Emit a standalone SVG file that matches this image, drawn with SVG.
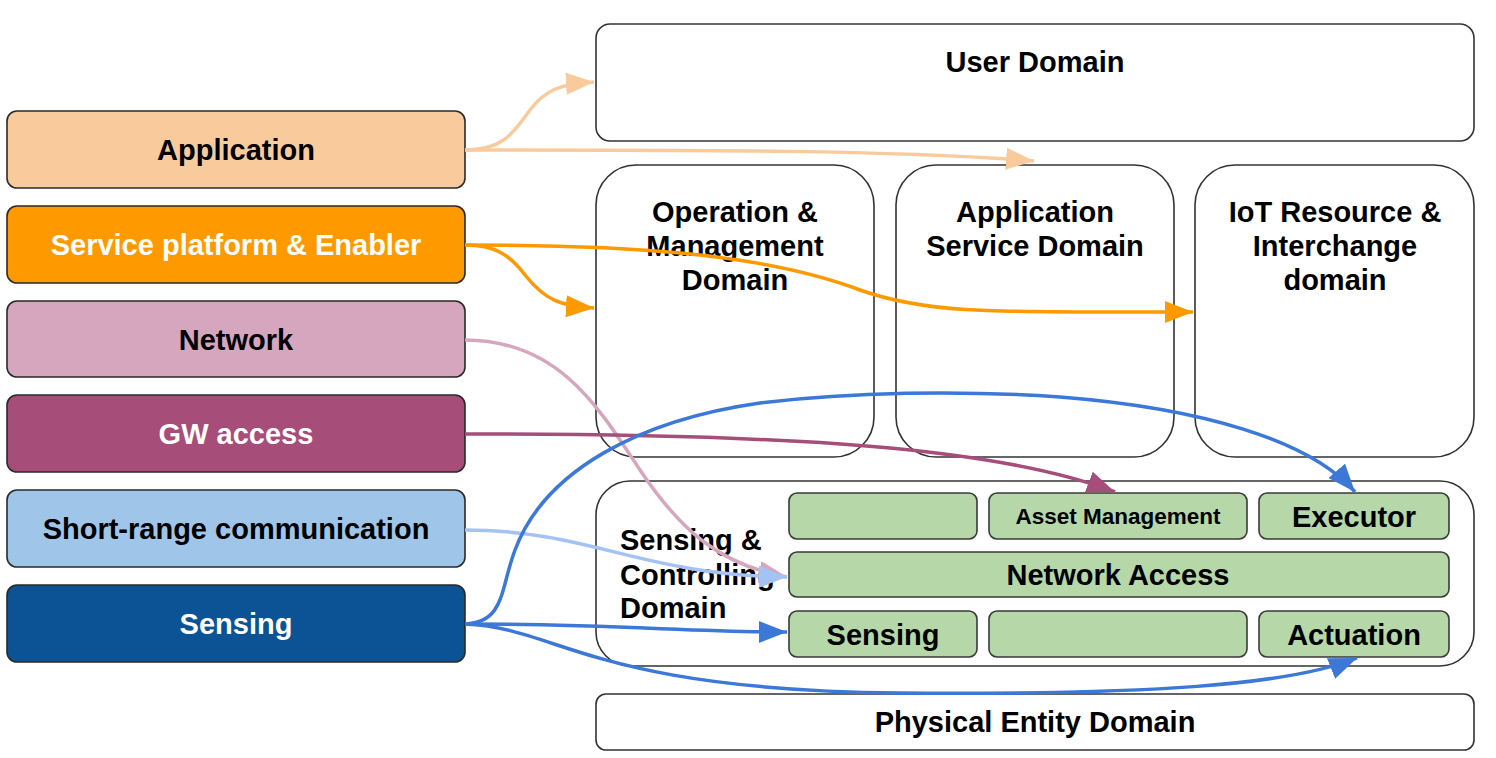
<svg xmlns="http://www.w3.org/2000/svg" width="1496" height="758" viewBox="0 0 1496 758">
<style>
text{font-family:"Liberation Sans",Arial,sans-serif;font-weight:bold;font-size:29px;text-anchor:middle}
.lb{stroke:#2a2a2a;stroke-width:1.6}
.dom{fill:#fff;stroke:#333;stroke-width:1.6}
.g{fill:#b6d7a8;stroke:#3a3a3a;stroke-width:1.6}
.c{fill:none;stroke-width:3.5}
.w{fill:#fff}
</style>
<defs>
<marker id="mApp" markerUnits="userSpaceOnUse" markerWidth="30" markerHeight="22" refX="28" refY="11" orient="auto"><path d="M0,0 L28,11 L0,22 z" fill="#f9cb9c"/></marker>
<marker id="mSvc" markerUnits="userSpaceOnUse" markerWidth="30" markerHeight="22" refX="28" refY="11" orient="auto"><path d="M0,0 L28,11 L0,22 z" fill="#ff9900"/></marker>
<marker id="mNet" markerUnits="userSpaceOnUse" markerWidth="30" markerHeight="22" refX="28" refY="11" orient="auto"><path d="M0,0 L28,11 L0,22 z" fill="#d5a6bd"/></marker>
<marker id="mGw" markerUnits="userSpaceOnUse" markerWidth="30" markerHeight="22" refX="28" refY="11" orient="auto"><path d="M0,0 L28,11 L0,22 z" fill="#a64d79"/></marker>
<marker id="mSr" markerUnits="userSpaceOnUse" markerWidth="30" markerHeight="22" refX="28" refY="11" orient="auto"><path d="M0,0 L28,11 L0,22 z" fill="#a4c2f4"/></marker>
<marker id="mSen" markerUnits="userSpaceOnUse" markerWidth="30" markerHeight="22" refX="28" refY="11" orient="auto"><path d="M0,0 L28,11 L0,22 z" fill="#3c78d8"/></marker>
</defs>

<g id="user-domain"><rect class="dom" x="596" y="24" width="878" height="117" rx="14"/><text x="1035" y="72">User Domain</text></g>
<g id="operation-management-domain"><rect class="dom" x="596" y="165" width="278" height="292" rx="40"/><text x="735" y="222">Operation &amp;</text><text x="735" y="256">Management</text><text x="735" y="290">Domain</text></g>
<g id="application-service-domain"><rect class="dom" x="896" y="165" width="278" height="292" rx="40"/><text x="1035" y="222">Application</text><text x="1035" y="256">Service Domain</text></g>
<g id="iot-resource-domain"><rect class="dom" x="1195" y="165" width="279" height="292" rx="40"/><text x="1335" y="222">IoT Resource &amp;</text><text x="1335" y="256">Interchange</text><text x="1335" y="290">domain</text></g>
<g id="sensing-controlling-domain"><rect class="dom" x="596" y="481" width="878" height="185" rx="34"/>
<text x="620" y="550" style="text-anchor:start">Sensing &amp;</text><text x="620" y="585" style="text-anchor:start">Controlling</text><text x="620" y="618" style="text-anchor:start">Domain</text></g>
<g id="physical-entity-domain"><rect class="dom" x="596" y="694" width="878" height="56" rx="10"/><text x="1035" y="732">Physical Entity Domain</text></g>

<g id="green-empty-1"><rect class="g" x="789" y="493" width="188" height="46" rx="8"/></g>
<g id="asset-management"><rect class="g" x="989" y="493" width="258" height="46" rx="8"/><text x="1118" y="524" style="font-size:22.5px">Asset Management</text></g>
<g id="executor"><rect class="g" x="1259" y="493" width="190" height="46" rx="8"/><text x="1354" y="527">Executor</text></g>
<g id="network-access"><rect class="g" x="789" y="552" width="660" height="45" rx="8"/><text x="1118" y="585">Network Access</text></g>
<g id="sensing-green"><rect class="g" x="789" y="611" width="188" height="46" rx="8"/><text x="883" y="645">Sensing</text></g>
<g id="green-empty-2"><rect class="g" x="989" y="611" width="258" height="46" rx="8"/></g>
<g id="actuation"><rect class="g" x="1259" y="611" width="190" height="46" rx="8"/><text x="1354" y="645">Actuation</text></g>

<g id="layer-application"><rect class="lb" x="7" y="111" width="458" height="77" rx="10" fill="#f9cb9c"/><text x="236" y="160">Application</text></g>
<g id="layer-service"><rect class="lb" x="7" y="206" width="458" height="77" rx="10" fill="#ff9900"/><text class="w" x="236" y="255">Service platform &amp; Enabler</text></g>
<g id="layer-network"><rect class="lb" x="7" y="301" width="458" height="76" rx="10" fill="#d5a6bd"/><text x="236" y="350">Network</text></g>
<g id="layer-gw"><rect class="lb" x="7" y="395" width="458" height="77" rx="10" fill="#a64d79"/><text class="w" x="236" y="444">GW access</text></g>
<g id="layer-short-range"><rect class="lb" x="7" y="490" width="458" height="77" rx="10" fill="#9fc5e8"/><text x="236" y="539">Short-range communication</text></g>
<g id="layer-sensing"><rect class="lb" x="7" y="585" width="458" height="77" rx="10" fill="#0b5394"/><text class="w" x="236" y="634">Sensing</text></g>

<g id="connectors">
<path class="c" stroke="#f9cb9c" d="M465,150 C505,150 515,130 530,110 C545,90 560,84 594,82" marker-end="url(#mApp)"/>
<path class="c" stroke="#f9cb9c" d="M465,150 C700,150 900,150 1034,161" marker-end="url(#mApp)"/>
<path class="c" stroke="#ff9900" d="M465,245 C495,245 510,255 525,275 C545,300 560,306 594,308" marker-end="url(#mSvc)"/>
<path class="c" stroke="#ff9900" d="M465,245 C620,245 760,252 860,290 C930,315 1000,312 1193,312" marker-end="url(#mSvc)"/>
<path class="c" stroke="#d5a6bd" d="M465,340 C560,340 600,410 640,470 C680,530 720,565 787,577" marker-end="url(#mNet)"/>
<path class="c" stroke="#a64d79" d="M465,434 C800,434 1000,448 1115,492" marker-end="url(#mGw)"/>
<path class="c" stroke="#a4c2f4" d="M465,530 C590,530 640,575 787,577" marker-end="url(#mSr)"/>
<path class="c" stroke="#3c78d8" d="M465,624 C505,622 500,590 515,550 C545,470 640,420 760,403 C850,392 960,390 1060,397 C1200,408 1310,440 1355,492" marker-end="url(#mSen)"/>
<path class="c" stroke="#3c78d8" d="M465,624 C600,624 700,632 787,632" marker-end="url(#mSen)"/>
<path class="c" stroke="#3c78d8" d="M465,624 C560,628 590,690 900,693 C1150,695 1290,685 1357,658" marker-end="url(#mSen)"/>
</g>
</svg>
